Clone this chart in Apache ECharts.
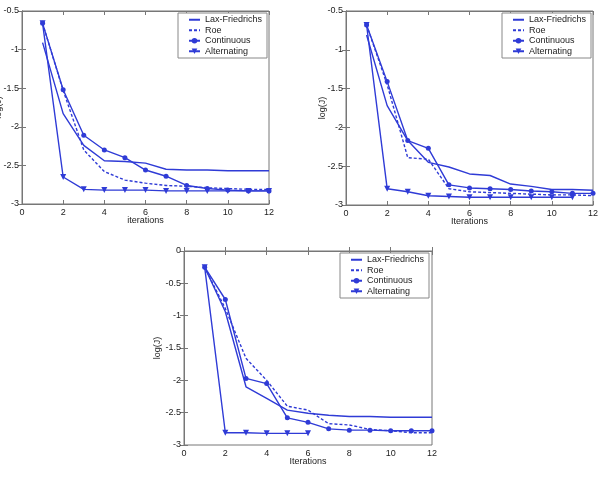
<!DOCTYPE html>
<html><head><meta charset="utf-8">
<script src="https://cdn.jsdelivr.net/npm/echarts@6/dist/echarts.min.js"></script>
<style>html,body{margin:0;padding:0;background:#fff}#c{width:600px;height:478px}</style>
</head><body><div id="c"></div>
<script>
const iterations = [1,2,3,4,5,6,7,8,9,10,11,12];
const seriesNames = ['Lax-Friedrichs','Roe','Continuous','Alternating'];
const xLabels = ['iterations','Iterations','Iterations'];
const yLabel = 'log(J)';
// top-left panel
const laxA  = [-0.91,-1.83,-2.24,-2.44,-2.45,-2.47,-2.55,-2.56,-2.56,-2.57,-2.57,-2.57];
const roeA  = [-0.66,-1.53,-2.30,-2.58,-2.69,-2.73,-2.76,-2.77,-2.79,-2.80,-2.81,-2.81];
const contA = [-0.66,-1.52,-2.11,-2.30,-2.40,-2.56,-2.64,-2.76,-2.80,-2.82,-2.83,-2.83];
const altA  = [-0.66,-2.65,-2.81,-2.82,-2.82,-2.82,-2.83,-2.83,-2.83,-2.83,-2.83,-2.83];
// top-right panel
const laxB  = [-0.81,-1.72,-2.17,-2.45,-2.51,-2.60,-2.62,-2.73,-2.76,-2.80,-2.80,-2.81];
const roeB  = [-0.68,-1.45,-2.39,-2.41,-2.79,-2.83,-2.84,-2.85,-2.86,-2.87,-2.87,-2.88];
const contB = [-0.68,-1.41,-2.17,-2.27,-2.74,-2.78,-2.79,-2.80,-2.82,-2.83,-2.85,-2.85];
const altB  = [-0.68,-2.79,-2.83,-2.88,-2.89,-2.90,-2.90,-2.90,-2.90,-2.90,-2.90];
// bottom panel
const laxC  = [-0.25,-0.94,-2.10,-2.28,-2.46,-2.51,-2.54,-2.56,-2.56,-2.57,-2.57,-2.57];
const roeC  = [-0.25,-0.89,-1.66,-2.00,-2.40,-2.46,-2.67,-2.69,-2.76,-2.78,-2.81,-2.81];
const contC = [-0.25,-0.75,-1.97,-2.05,-2.58,-2.65,-2.75,-2.77,-2.77,-2.78,-2.78,-2.78];
const altC  = [-0.25,-2.81,-2.81,-2.82,-2.82,-2.82];
const yRanges = [[-3,-0.5],[-3,-0.5],[-3,0]];

const panels = [[laxA,roeA,contA,altA],[laxB,roeB,contB,altB],[laxC,roeC,contC,altC]];
const BLUE = '#2f3bd6';
const FONT = 'Liberation Sans, Arial, sans-serif';
const grids = [
  {left:22, top:11, width:247, height:193},
  {left:346, top:11, width:247, height:194},
  {left:184, top:251, width:248, height:194}
];
const yNameGap = [19, 19, 22];
const legendPos = [{left:178, top:13},{left:502, top:13},{left:340, top:253}];

const xAxis = [], yAxis = [], series = [], legend = [];
grids.forEach((g, i) => {
  g.show = true; g.borderColor = '#777'; g.borderWidth = 1; g.backgroundColor = '#fff';
  g.containLabel = false; g.outerBoundsMode = 'none';
  const axLine = {show:true, lineStyle:{color:'#777', width:1}};
  const tick = {show:true, inside:true, length:4, lineStyle:{color:'#777'}};
  const lab = {color:'#222', fontSize:9, fontFamily:FONT};
  xAxis.push({type:'value', gridIndex:i, min:0, max:12, interval:2, position:'bottom',
    axisLine:axLine, axisTick:tick, splitLine:{show:false}, axisLabel:Object.assign({margin:4}, lab),
    name:xLabels[i], nameLocation:'middle', nameGap:12, nameMoveOverlap:false,
    nameTextStyle:{color:'#222', fontSize:9, fontFamily:FONT}});
  xAxis.push({type:'value', gridIndex:i, min:0, max:12, interval:2, position:'top',
    axisLine:axLine, axisTick:tick, splitLine:{show:false}, axisLabel:{show:false}});
  yAxis.push({type:'value', gridIndex:i, min:yRanges[i][0], max:yRanges[i][1], interval:0.5, position:'left',
    axisLine:axLine, axisTick:tick, splitLine:{show:false}, axisLabel:Object.assign({margin:3}, lab),
    name:yLabel, nameLocation:'middle', nameGap:yNameGap[i], nameMoveOverlap:false,
    nameTextStyle:{color:'#222', fontSize:9, fontFamily:FONT}});
  yAxis.push({type:'value', gridIndex:i, min:yRanges[i][0], max:yRanges[i][1], interval:0.5, position:'right',
    axisLine:axLine, axisTick:tick, splitLine:{show:false}, axisLabel:{show:false}});
  panels[i].forEach((vals, k) => {
    const s = {
      name: seriesNames[k], type:'line', xAxisIndex:2*i, yAxisIndex:2*i,
      data: vals.map((v, j) => [iterations[j], v]),
      lineStyle:{color:BLUE, width:1.4, type: k===1 ? [3,2] : 'solid'},
      itemStyle:{color:BLUE}, color:BLUE, animation:false, z: 2+k
    };
    if (k < 2) { s.symbol = 'none'; }
    else if (k === 2) { s.symbol = 'circle'; s.symbolSize = 5; }
    else { s.symbol = 'triangle'; s.symbolSize = 6; s.symbolRotate = 180; }
    series.push(s);
  });
  legend.push(Object.assign({
    orient:'vertical',
    data: seriesNames.map((n, k) => k < 2 ? {name:n, itemStyle:{opacity:0}} : {name:n}),
    itemWidth:11, itemHeight:7, itemGap:0,
    backgroundColor:'#fff', borderColor:'#888', borderWidth:1, padding:[1.5,5,1.5,10],
    textStyle:{color:'#222', fontSize:9, lineHeight:10.5, fontFamily:FONT}, selectedMode:false
  }, legendPos[i]));
});

const chart = echarts.init(document.getElementById('c'), null, {renderer:'canvas'});
chart.setOption({animation:false, backgroundColor:'#fff', grid:grids, xAxis, yAxis, series, legend});
</script></body></html>
